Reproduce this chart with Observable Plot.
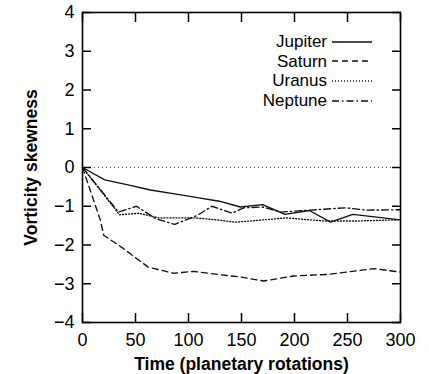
<!DOCTYPE html>
<html><head><meta charset="utf-8">
<script src="https://cdn.jsdelivr.net/npm/d3@7"></script>
<script src="https://cdn.jsdelivr.net/npm/@observablehq/plot@0.6"></script>
<style>
body{margin:0;background:#fff;}
#wrap{position:relative;width:429px;height:374px;font-family:"Liberation Sans",Arial,Helvetica,sans-serif;}
#wrap [aria-label$="axis label"] text{font-weight:bold;font-size:17.5px;}
#legend{position:absolute;right:57px;top:32px;font-size:17px;line-height:19.6px;color:#000;}
#legend div{display:flex;align-items:center;justify-content:flex-end;}
#legend svg{margin-left:5px;}
</style>
</head><body>
<div id="wrap"><div id="legend"></div></div>
<script>
// Series (time in planetary rotations, vorticity skewness)
const jupiterT = [0, 21, 43, 64, 87, 100, 107, 129, 149, 170, 191, 214, 234, 255, 300];
const jupiterV = [0, -0.32, -0.45, -0.58, -0.68, -0.74, -0.77, -0.87, -1.02, -0.96, -1.21, -1.11, -1.41, -1.21, -1.35];
const saturnT = [0, 17, 20, 37, 62, 86, 105, 128, 150, 171, 199, 231, 275, 300];
const saturnV = [0, -1.37, -1.75, -2.06, -2.57, -2.73, -2.68, -2.76, -2.83, -2.93, -2.80, -2.76, -2.61, -2.70];
const uranusT = [0, 35, 53, 72, 100, 107, 126, 144, 163, 192, 228, 260, 300];
const uranusV = [0, -1.22, -1.18, -1.30, -1.30, -1.30, -1.35, -1.41, -1.37, -1.30, -1.38, -1.38, -1.35];
const neptuneT = [0, 34, 51, 69, 87, 108, 122, 141, 152, 170, 187, 215, 248, 268, 300];
const neptuneV = [0, -1.15, -1.0, -1.32, -1.47, -1.24, -1.0, -1.18, -1.04, -1.02, -1.15, -1.1, -1.04, -1.1, -1.09];

const seriesNames = ["Jupiter", "Saturn", "Uranus", "Neptune"];
const seriesDash = ["none", "6,4", "1,2", "7,3,1.5,3"];
const xTicks = [0, 50, 100, 150, 200, 250, 300];
const yTicks = [-4, -3, -2, -1, 0, 1, 2, 3, 4];

const seriesT = [jupiterT, saturnT, uranusT, neptuneT];
const seriesV = [jupiterV, saturnV, uranusV, neptuneV];
const rows = seriesNames.flatMap((name, i) => seriesT[i].map((t, j) => ({name, t, v: seriesV[i][j]})));

const lineMarks = seriesNames.map((name, i) =>
  Plot.line(rows.filter(d => d.name === name), {x: "t", y: "v", stroke: "#111", strokeWidth: 1.35, strokeDasharray: seriesDash[i]})
);

const chart = Plot.plot({
  width: 429, height: 374,
  marginLeft: 82, marginRight: 29, marginTop: 12, marginBottom: 52,
  style: {fontFamily: '"Liberation Sans",Arial,Helvetica,sans-serif', fontSize: "18px", color: "#000", background: "#fff"},
  x: {domain: [0, 300]},
  y: {domain: [-4, 4]},
  marks: [
    Plot.ruleY([0], {stroke: "#555", strokeDasharray: "1,3", strokeWidth: 1}),
    ...lineMarks,
    Plot.frame({stroke: "#000", strokeWidth: 1.6}),
    Plot.axisX({ticks: xTicks, tickSize: -9, tickPadding: 20, tickFormat: d => String(d), label: "Time (planetary rotations)", labelAnchor: "center", labelArrow: "none", labelOffset: 47, strokeWidth: 1.5}),
    Plot.axisX({anchor: "top", ticks: xTicks, tickSize: -9, tickFormat: () => "", label: null, strokeWidth: 1.5}),
    Plot.axisY({ticks: yTicks, tickSize: -9, tickPadding: 17, label: "Vorticity skewness", labelAnchor: "center", labelArrow: "none", labelOffset: 58, strokeWidth: 1.5}),
    Plot.axisY({anchor: "right", ticks: yTicks, tickSize: -9, tickFormat: () => "", label: null, strokeWidth: 1.5})
  ]
});
document.getElementById("wrap").prepend(chart);

const legend = document.getElementById("legend");
seriesNames.forEach((name, i) => {
  const row = document.createElement("div");
  row.innerHTML = `<span>${name}</span><svg width="40" height="10"><line x1="0" y1="5" x2="40" y2="5" stroke="#111" stroke-width="1.3" stroke-dasharray="${seriesDash[i]}"/></svg>`;
  legend.appendChild(row);
});
</script>
</body></html>
